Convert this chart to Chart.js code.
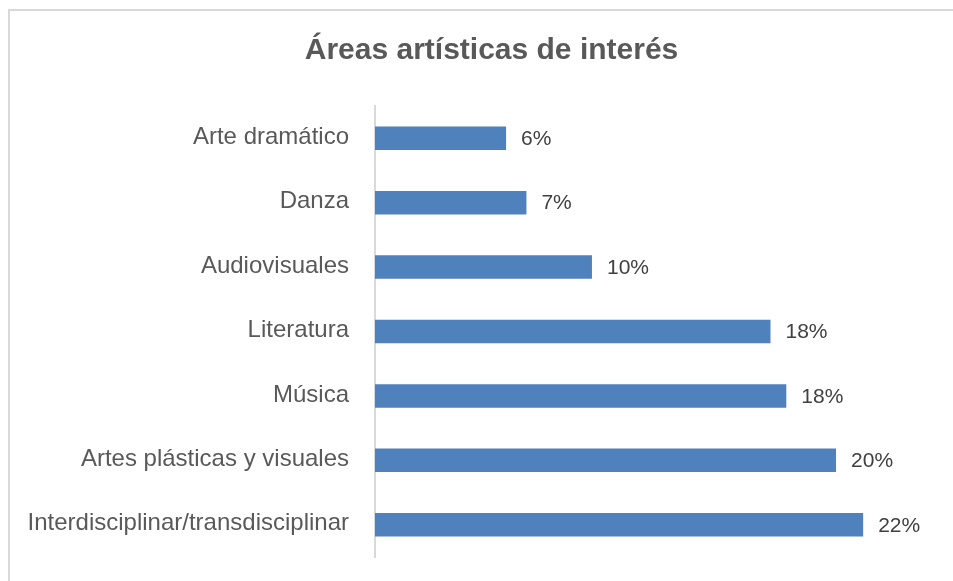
<!DOCTYPE html>
<html>
<head>
<meta charset="utf-8">
<script src="https://cdn.jsdelivr.net/npm/chart.js@4/dist/chart.umd.min.js"></script>
<style>
    html, body { margin: 0; padding: 0; background: #fff; }
    #wrap { position: relative; width: 953px; height: 581px; overflow: hidden; }
    #frame { position: absolute; left: 8px; top: 9px; width: 1000px; height: 700px;
             border-left: 2px solid #d9d9d9; border-top: 2px solid #d9d9d9; }
    canvas { position: absolute; left: 0; top: 0; }
</style>
</head>
<body>
<div id="wrap">
    <div id="frame"></div>
    <canvas id="chart" width="953" height="581"></canvas>
</div>
<script>
// ===================== DATOS =====================
const categorias = [
    'Arte dramático',
    'Danza',
    'Audiovisuales',
    'Literatura',
    'Música',
    'Artes plásticas y visuales',
    'Interdisciplinar/transdisciplinar'
];
const porcentajes = [5.8, 6.7, 9.6, 17.5, 18.2, 20.4, 21.6];
const titulo = 'Áreas artísticas de interés';

const FONT = "'Liberation Sans', Arial, sans-serif";

// etiquetas de valor al final de cada barra
const etiquetasBarras = {
    id: 'etiquetasBarras',
    afterLayout(chart) {
        // el eje Y ocupa desde el borde para que las etiquetas largas no se recorten
        chart.scales.y.left = 0;
    },
    afterDatasetsDraw(chart) {
        const ctx = chart.ctx;
        const meta = chart.getDatasetMeta(0);
        ctx.save();
        ctx.font = '21px ' + FONT;
        ctx.fillStyle = '#404040';
        ctx.textAlign = 'left';
        ctx.textBaseline = 'middle';
        meta.data.forEach((bar, i) => {
            ctx.fillText(Math.round(porcentajes[i]) + '%', bar.x + 15, bar.y + 1);
        });
        ctx.restore();
    }
};

new Chart(document.getElementById('chart'), {
    type: 'bar',
    data: {
        labels: categorias,
        datasets: [{
            data: porcentajes,
            backgroundColor: '#4f81bd',
            borderWidth: 0,
            barPercentage: 0.365,
            categoryPercentage: 1
        }]
    },
    options: {
        indexAxis: 'y',
        responsive: false,
        animation: false,
        layout: { padding: { left: 43, right: 13, top: 0, bottom: 24 } },
        plugins: {
            legend: { display: false },
            tooltip: { enabled: false },
            title: {
                display: true,
                text: titulo,
                color: '#595959',
                font: { family: FONT, size: 30, weight: 'bold' },
                padding: { top: 33, bottom: 37 }
            }
        },
        scales: {
            x: { display: false, min: 0, max: 25 },
            y: {
                grid: { display: false, drawTicks: false },
                border: { display: true, color: '#d9d9d9', width: 2 },
                ticks: {
                    color: '#595959',
                    font: { family: FONT, size: 24 },
                    padding: 26,
                    labelOffset: -1,
                    autoSkip: false
                },
                afterFit(scale) {
                    scale.width = 332;
                    scale.paddingTop = 0;
                    scale.paddingBottom = 0;
                }
            }
        }
    },
    plugins: [etiquetasBarras]
});
</script>
</body>
</html>
